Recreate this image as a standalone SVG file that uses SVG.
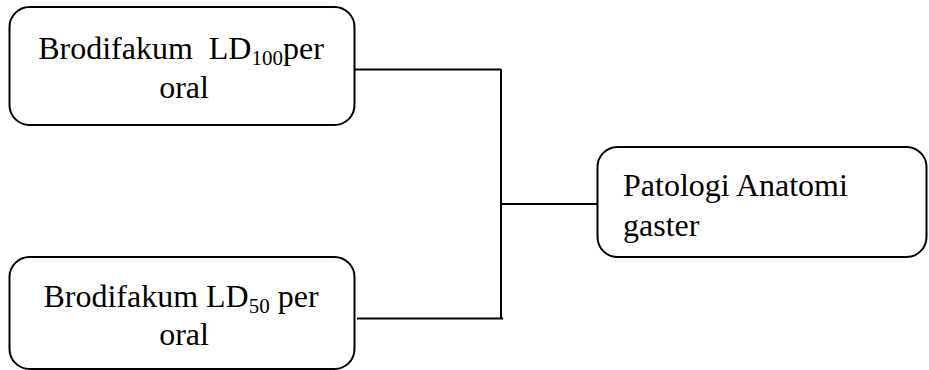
<svg xmlns="http://www.w3.org/2000/svg" width="929" height="370" viewBox="0 0 929 370">
<style>
.box{fill:#fff;stroke:#000;stroke-width:2}
.t{font-family:"Liberation Serif","Times New Roman",serif;font-size:32px;fill:#000}
.sub{font-size:21px}
.c{fill:none;stroke:#000;stroke-width:2}
</style>
<rect width="929" height="370" fill="#fff"/>
<g id="connectors">
<path class="c" d="M354 69.5 H501 M357 318.5 H503 M501 69 V319 M501 204 H598"/>
</g>
<g id="n1">
<rect class="box" x="9.5" y="7" width="345" height="118" rx="20"/>
<text class="t" x="181" y="59" text-anchor="middle" xml:space="preserve">Brodifakum  LD<tspan class="sub" dy="6">100</tspan><tspan dy="-6">per</tspan></text>
<text class="t" x="184" y="98" text-anchor="middle">oral</text>
</g>
<g id="n2">
<rect class="box" x="9.5" y="257" width="345" height="112" rx="20"/>
<text class="t" x="181" y="307" text-anchor="middle">Brodifakum LD<tspan class="sub" dy="6">50</tspan><tspan dy="-6"> per</tspan></text>
<text class="t" x="184" y="345" text-anchor="middle">oral</text>
</g>
<g id="n3">
<rect class="box" x="597.5" y="147" width="329" height="110" rx="20"/>
<text class="t" x="623" y="196">Patologi Anatomi</text>
<text class="t" x="623" y="236">gaster</text>
</g>
</svg>
